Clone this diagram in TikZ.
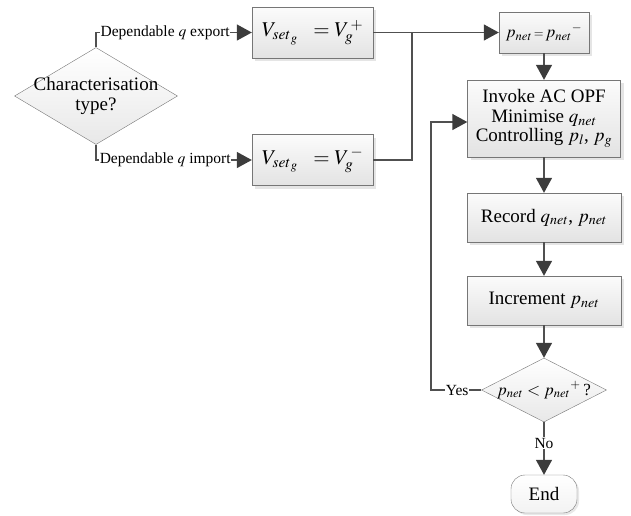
\documentclass[tikz,border=0pt]{standalone}
\usepackage{mathptmx}
\usepackage{fontspec}
\setmainfont{Liberation Serif}
\usetikzlibrary{
    arrows.meta,
    shapes.geometric,
    shadows,
    positioning,
    calc
}
\definecolor{linegray}{RGB}{80,80,80}
\definecolor{tipgray}{RGB}{60,60,60}
\definecolor{edgegray}{RGB}{118,118,118}
\tikzset{
    procbox/.style={rectangle, draw=edgegray, top color=gray!3, bottom color=gray!22,
        drop shadow={shadow xshift=3pt, shadow yshift=-3pt, fill=gray!40},
        align=center, inner sep=2pt, font=\fontsize{19}{19.5}\selectfont},
    decision/.style={diamond, draw=edgegray, top color=white, bottom color=gray!18,
        inner sep=0pt},
    inside/.style={align=center, font=\fontsize{19}{19.5}\selectfont},
    termbox/.style={rectangle, rounded corners=14pt, draw=edgegray, top color=white, bottom color=gray!10,
        drop shadow={shadow xshift=2pt, shadow yshift=-2pt, fill=gray!35},
        font=\fontsize{19}{19.5}\selectfont},
    link/.style={draw=linegray, line width=1.4pt},
    flow/.style={link, -{Triangle[length=15pt, width=16pt, color=tipgray]}},
    branch/.style={fill=white, inner xsep=0.5pt, inner ysep=1pt, font=\fontsize{15.5}{17}\selectfont}
}

\begin{document}
\begin{tikzpicture}[x=1pt, y=-1pt]
    \useasboundingbox (0,0) rectangle (631,515);

    \node[decision, minimum width=163pt, minimum height=97pt,
        label={[inside]center:Characterisation\\type?}] (chartype) at (96,96) {};
    \node[procbox, minimum width=121pt, minimum height=51pt, font=\fontsize{21}{24}\selectfont] (vplus) at (312.5,32.5) {$V_{set_{\,g}}\ \ = V_g^{\,+}$};
    \node[procbox, minimum width=121pt, minimum height=51pt, font=\fontsize{21}{24}\selectfont] (vminus) at (312.5,160) {$V_{set_{\,g}}\ \ = V_g^{\,-}$};
    \node[procbox, minimum width=90pt, minimum height=41pt, font=\fontsize{17}{19}\selectfont] (pstart) at (544,32.5) {$p_{net}\,{\scriptstyle =}\,p_{net}{}^{-}$};
    \node[procbox, minimum width=153pt, minimum height=77pt] (opf) at (544,118.5) {Invoke AC OPF\\Minimise $q_{net}$\\Controlling $p_l$, $p_g$};
    \node[procbox, minimum width=154pt, minimum height=49pt] (record) at (544,217.5) {Record $q_{net}$, $p_{net}$};
    \node[procbox, minimum width=154pt, minimum height=49pt] (incr) at (544,300.5) {Increment $p_{net}$};
    \node[decision, minimum width=125pt, minimum height=64pt,
        label={[inside, font=\fontsize{17}{19}\selectfont]center:$p_{net} < p_{net}{}^{+}$\,?}] (check) at (544,390) {};
    \node[termbox, minimum width=66pt, minimum height=38pt] (stop) at (544,494) {End};
    \coordinate (jn) at (412,32.5);
    \coordinate (loop) at (431,122);

    \draw[flow] (chartype.north) |- node[branch, pos=0.722] {Dependable $q$ export} (vplus.west);
    \draw[flow] (chartype.south) |- node[branch, pos=0.722] {Dependable $q$ import} (vminus.west);
    \draw[flow] (vplus.east) -- (pstart.west);
    \draw[link] (vminus.east) -| (jn);
    \draw[flow] (pstart.south) -- (opf.north);
    \draw[flow] (opf.south) -- (record.north);
    \draw[flow] (record.south) -- (incr.north);
    \draw[flow] (incr.south) -- (check.north);
    \draw[flow] (check.west) -| node[branch, pos=0.24] {Yes} (loop) -- (opf.west |- loop);
    \draw[flow] (check.south) -- node[branch, pos=0.4] {No} (stop.north);
\end{tikzpicture}
\end{document}
